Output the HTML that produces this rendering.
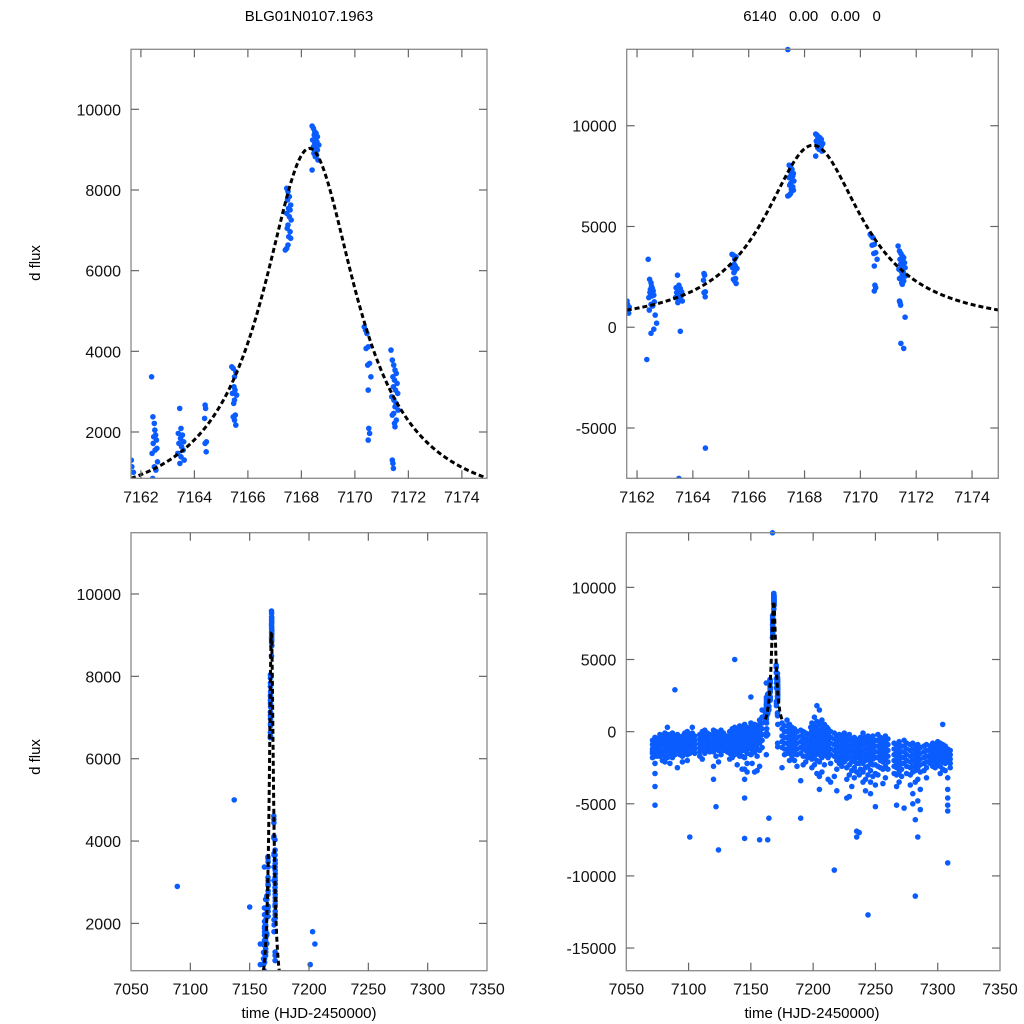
<!DOCTYPE html>
<html><head><meta charset="utf-8"><style>
html,body{margin:0;padding:0;background:#fff;}
svg{display:block;font-family:"Liberation Sans",Arial,sans-serif;}
</style></head><body>
<svg id="fig" width="1024" height="1024" viewBox="0 0 1024 1024" xmlns="http://www.w3.org/2000/svg">
<rect width="1024" height="1024" fill="#fff"/>
<text x="309" y="21" font-size="15" text-anchor="middle">BLG01N0107.1963</text>
<text x="812" y="21" font-size="15" text-anchor="middle" xml:space="preserve">6140   0.00   0.00   0</text>
<text transform="translate(40,263) rotate(-90)" font-size="15" text-anchor="middle">d flux</text>
<text transform="translate(40,757) rotate(-90)" font-size="15" text-anchor="middle">d flux</text>
<text x="309" y="1018" font-size="15" text-anchor="middle">time (HJD-2450000)</text>
<text x="812" y="1018" font-size="15" text-anchor="middle">time (HJD-2450000)</text>
</svg>
<script>
// ---- data ----
const peakTimes = [7161.64,7161.66,7161.70,7161.72,
7162.40,7162.45,7162.50,7162.52,7162.55,7162.48,7162.58,7162.46,7162.60,7162.53,7162.42,7162.62,7162.50,7162.56,7162.44,7162.65,7162.35,7162.50,7162.60,7162.70,
7163.45,7163.50,7163.40,7163.55,7163.48,7163.60,7163.42,7163.52,7163.58,7163.38,7163.50,7163.62,7163.46,7163.55,7163.50,
7164.40,7164.42,7164.38,7164.45,7164.40,7164.44,7164.45,
7165.40,7165.45,7165.55,7165.50,7165.48,7165.52,7165.42,7165.58,7165.50,7165.47,7165.53,7165.45,7165.50,7165.55,
7167.45,7167.50,7167.55,7167.48,7167.60,7167.52,7167.58,7167.45,7167.55,7167.62,7167.50,7167.47,7167.58,7167.53,7167.60,7167.50,7167.45,7167.40,7167.40,
7168.40,7168.45,7168.50,7168.55,7168.48,7168.60,7168.52,7168.42,7168.58,7168.50,7168.65,7168.45,7168.55,7168.60,7168.50,7168.47,7168.57,7168.52,7168.62,7168.40,
7170.35,7170.40,7170.45,7170.50,7170.42,7170.55,7170.48,7170.60,7170.50,7170.52,7170.55,7170.50,
7171.35,7171.40,7171.45,7171.50,7171.55,7171.42,7171.48,7171.58,7171.44,7171.52,7171.60,7171.38,7171.46,7171.54,7171.50,7171.62,7171.45,7171.40,7171.55,7171.48,7171.50,7171.40,7171.42,7171.44,7171.45,7171.55,7171.60];
const peakFlux = [1300,1140,700,1000,
3369,2377,2212,2047,1923,1882,1799,1717,1593,1551,1469,1262,1138,1055,849,600,-1600,-300,-100,200,
2584,2088,1964,1923,1840,1758,1717,1634,1551,1469,1386,1303,1221,-200,-7500,
2667,2584,2336,1758,1717,1510,-6000,
3617,3576,3493,3369,3121,3039,2956,2915,2791,2708,2419,2377,2295,2171,
8041,7959,7835,7752,7628,7545,7504,7421,7339,7256,7132,7049,6967,6843,6802,6636,6553,6512,13780,
9586,9528,9445,9404,9363,9321,9280,9239,9197,9156,9115,9073,9032,8991,8949,8908,8867,8825,8743,8495,
4609,4526,4443,4113,4071,3700,3659,3369,3039,2088,1964,1800,
4031,3783,3659,3535,3452,3369,3287,3204,3121,3039,2956,2873,2791,2708,2625,2543,2460,2419,2295,2212,2130,1303,1221,1097,-800,-1050,500];
const nightTimes = [7071,7073,7075,7077,7079,7081,7083,7085,7087,7089,7091,7093,7095,7097,7099,7101,7103,7105,7109,7111,7113,7115,7117,7120,7122,7124,7126,7128,7131,7133,7135,7137,7139,7141,7143,7145,7147,7150,7151,7153,7155,7157,7159,
7175,7177,7179,7181,7183,7185,7187,7190,7192,7194,7196,7198,7199,7201,7203,7205,7207,7209,7211,7212,7214,7217,7219,7221,7223,7225,7227,7229,7231,7233,7235,7237,7238,7240,7242,7244,7246,7248,7250,7252,7254,7256,7258,7260,7265,7267,7269,7271,7273,7275,7278,7280,7282,7284,7286,7289,7291,7294,7296,7298,7300,7302,7304,7306,7308,7310];
const nightFlux = [
[-600,-900,-1200,-1500,-1800,-1400],[-400,-800,-1100,-1300,-1700,-2200,-2900,-3800,-5100],[-500,-800,-1100,-1400,-1700],[-200,-500,-800,-1000,-1400,-1700],[-300,-600,-900,-1300,-1600,-2000],[-100,-400,-700,-1000,-1300,-1700,-2100],[300,-200,-500,-800,-1100,-1400,-1800],[-200,-500,-900,-1200,-1500,-2200],[-100,-400,-700,-1100,-1400,-1800],[-300,-600,-900,-1200,-1600,2900],[-200,-500,-800,-1000,-1300,-2500],[-400,-700,-1000,-1300,-1600],[-300,-700,-1000,-1300,-1700,-2100],[-100,-400,-700,-1100,-1400],[0,-300,-600,-900,-1200,-1600,-2000],[-200,-500,-800,-1100,-1500,-7300],[300,-100,-400,-800,-1100,-1400],[-300,-600,-900,-1200,-1500],
[-200,-500,-800,-1100,-1400,-1700],[0,-300,-600,-900,-1200,-1900],[100,-200,-500,-800,-1100,-1500],[-100,-400,-700,-1000,-1300],[-200,-500,-800,-1100,-1400],[100,-200,-500,-800,-1100,-1400,-2400,-3300],[0,-300,-600,-900,-1200,-1700,-5200],[-100,-400,-700,-1000,-1300,-2100,-8200],[100,-200,-500,-800,-1100,-1600],[-100,-400,-700,-1000,-1300],[-300,-500,-800,-1100,-1400],[0,-300,-600,-900,-1200,-1500,-1900],[200,-100,-400,-700,-1000,-1300,-1800],[300,0,-300,-600,-900,-1200,-1600,5000],[100,-200,-500,-800,-1100,-1400,-2300],[400,100,-200,-500,-800,-1100,-1400,-1700],[200,-100,-400,-700,-1000,-1300,-1700,-2600],[500,200,-100,-400,-700,-1000,-1300,-1800,-2600,-3300,-4600,-7400],[300,0,-300,-600,-900,-1200,-1500,-2200,-2800],[600,300,0,-300,-600,-900,-1200,-1600,2400],[400,100,-200,-500,-800,-1100,-1500,-2200],[500,200,-100,-400,-700,-1000,-1400,-2800],[300,0,-300,-600,-900,-1200,-1700,-2700],[800,500,200,-100,-400,-800,-1300,-2400,-7500],[1500,1000,600,200,-200,-600,-1100],
[600,200,-300,-700,-1100,-2500],[400,0,-400,-800,-1200,-1600],[800,400,0,-400,-800,-1200,-1500],[500,100,-300,-700,-1100,-1500,-2000],[300,-100,-500,-900,-1300,-1700],[200,-200,-600,-1000,-1400,-2000],[0,-400,-800,-1200,-1600,-2400],[100,-300,-700,-1100,-1500,-3400,-6000],[0,-400,-800,-1200,-1700,-2300],[-100,-500,-900,-1300,-1700,-2100],[-200,-600,-1000,-1400,-1800],[300,-100,-500,-900,-1300,-1700],[600,100,-300,-700,-1100,-1500,-1900,-2500],[1000,400,-100,-500,-900,-1300,-1700,-2300],[1800,700,200,-300,-700,-1100,-1500,-2000,-2900],[1500,500,0,-400,-800,-1200,-1600,-2100,-3100,-4000],[800,200,-200,-600,-1000,-1400,-1800,-2800],[500,0,-400,-800,-1200,-1600,-2300],[300,-100,-500,-900,-1300,-1700],[200,-200,-600,-1000,-1400,-1800,-3300],[0,-400,-800,-1200,-1600,-2200,-3500],[-100,-500,-900,-1300,-1700,-3100,-9600],[-300,-700,-1100,-1500,-2000,-2600,-4100],[-200,-600,-1000,-1400,-1800,-2200],[-300,-700,-1100,-1500,-1900,-2400],
[-100,-500,-900,-1300,-1700,-2100],[-300,-700,-1100,-1500,-1900,-2500,-3300,-4600],[-200,-600,-1000,-1400,-1800,-2300,-3000,-4500],[-500,-900,-1300,-1700,-2100,-2700,-3800],[-400,-800,-1200,-1600,-2000,-2500,-3200],[-600,-1000,-1400,-1800,-2200,-2800,-6900,-7300],[-500,-900,-1300,-1700,-2200,-3000,-7000],[-400,-800,-1200,-1600,-2000,-2600],[-100,-500,-900,-1300,-1700,-2200,-2800,-3500],[-400,-800,-1200,-1600,-2000,-2500,-3300,-4100],[-300,-700,-1100,-1500,-1900,-2400,-3000,-12700],[-500,-900,-1300,-1700,-2100,-2700,-3500,-4300],[-300,-700,-1100,-1500,-1900,-2300,-3100],[-600,-1000,-1400,-1800,-2300,-2900,-3700,-5200],[-200,-600,-1000,-1400,-1800,-2400,-3000],[-400,-800,-1200,-1600,-2000,-2500],[-500,-900,-1300,-1700,-2100,-2600,-3600],[-300,-700,-1100,-1500,-1900,-2400,-3200],[-500,-900,-1300,-1700,-2100,-2600],[-800,-1200,-1600,-2000,-2400,-2900],
[-900,-1300,-1700,-2100,-2500,-3000,-3800,-5100],[-700,-1100,-1500,-1900,-2300,-2800,-3500],[-1000,-1400,-1800,-2200,-2600,-3100],[-600,-1000,-1400,-1800,-2200,-5300],[-800,-1200,-1600,-2000,-2400,-2900],[-900,-1300,-1700,-2100,-2500,-3000,-3700],[-800,-1200,-1600,-2000,-2400,-2800,-4300,-5000],[-1100,-1500,-1900,-2300,-2700,-3500,-6100,-11400],[-900,-1300,-1700,-2100,-2500,-3300,-4800,-7300],[-1100,-1500,-1900,-2300,-2800,-4000,-5400],[-1000,-1400,-1800,-2200,-2700],[-900,-1300,-1700,-2100,-2500,-3200],[-1000,-1300,-1600,-1900,-2200],[-800,-1100,-1400,-1700,-2000,-2400],[-900,-1200,-1500,-1800,-2100,-2500],[-700,-1000,-1300,-1600,-1900,-2300],[-800,-1100,-1400,-1700,-2000,-2400,-2900],[500,-900,-1200,-1500,-1800,-2100,-2600],[-1000,-1300,-1600,-1900,-2200,-2700],[-1200,-1500,-1800,-2100,-3200,-4000,-4600,-5100,-5500,-9100],[-1300,-1600,-1900,-2200,-2500]];
// model: [t0, peak, width]
const modelParams = [7168.3, 9031, 2.15];
const modelRange = [7161.63, 7174.94];
const zoomXTicks = [7162,7164,7166,7168,7170,7172,7174];
const fullXTicks = [7050,7100,7150,7200,7250,7300,7350];
const leftYTicks = [2000,4000,6000,8000,10000];
const trYTicks = [-5000,0,5000,10000];
const brYTicks = [-15000,-10000,-5000,0,5000,10000];

// ---- layout ----
const NS = "http://www.w3.org/2000/svg";
const svg = document.getElementById('fig');
const panels = [
 {name:'zoom-panel-left', x0:131,x1:487,y0:49.3,y1:478.3, xr:[7161.63,7174.94], yr:[852,11488], xt:zoomXTicks, yt:leftYTicks},
 {name:'zoom-panel-right', x0:626.7,x1:998.3,y0:49.3,y1:478.3, xr:[7161.63,7174.94], yr:[-7497,13793], xt:zoomXTicks, yt:trYTicks},
 {name:'full-panel-left', x0:131,x1:487,y0:532.7,y1:970.7, xr:[7050,7350], yr:[852,11488], xt:fullXTicks, yt:leftYTicks},
 {name:'full-panel-right', x0:626.3,x1:1000,y0:532.7,y1:970.7, xr:[7050,7350], yr:[-16570,13790], xt:fullXTicks, yt:brYTicks}
];
function mk(tag, attrs, parent){const e=document.createElementNS(NS,tag);for(const k in attrs)e.setAttribute(k,attrs[k]);(parent||svg).appendChild(e);return e;}

const allT=[], allF=[];
for(let i=0;i<peakTimes.length;i++){allT.push(peakTimes[i]);allF.push(peakFlux[i]);}
for(let i=0;i<nightTimes.length;i++){for(const f of nightFlux[i]){allT.push(nightTimes[i]);allF.push(f);}}
function model(t){const d=(t-modelParams[0])/modelParams[2];return modelParams[1]/(1+d*d);}

panels.forEach((p,pi)=>{
  const sx=t=>p.x0+(t-p.xr[0])/(p.xr[1]-p.xr[0])*(p.x1-p.x0);
  const sy=f=>p.y1-(f-p.yr[0])/(p.yr[1]-p.yr[0])*(p.y1-p.y0);
  const g=mk('g',{});
  
  
  const cp=mk('clipPath',{id:'clip'+pi},g);
  mk('rect',{x:p.x0,y:p.y0-3,width:p.x1-p.x0,height:p.y1-p.y0+3},cp);
  const pts=mk('g',{'clip-path':'url(#clip'+pi+')',fill:'#0a5cff'},g);
  
  
  for(let i=0;i<allT.length;i++){
    if(allT[i]<p.xr[0]||allT[i]>p.xr[1])continue;
    const x=sx(allT[i]), y=sy(allF[i]);
    if(y<p.y0-4||y>p.y1+3)continue;
    const c=mk('circle',{cx:x.toFixed(1),cy:y.toFixed(1),r:2.8},pts);
    
    
  }
  let d='';
  for(let k=0;k<=300;k++){const t=modelRange[0]+(modelRange[1]-modelRange[0])*k/300;d+=(k?'L':'M')+sx(t).toFixed(2)+','+sy(model(t)).toFixed(2);}
  const ml=mk('path',{d:d,fill:'none',stroke:'#000','stroke-width':3,'stroke-dasharray':'5,3','clip-path':'url(#clip'+pi+')'},g);
  
  
  const box=mk('rect',{x:p.x0,y:p.y0,width:p.x1-p.x0,height:p.y1-p.y0,fill:'none',stroke:'#888','stroke-width':1.3},g);
  
  
  const TL=8;
  p.xt.forEach(v=>{
    const x=sx(v);
    if(x>p.x0+1&&x<p.x1-1){
      mk('line',{x1:x,y1:p.y1,x2:x,y2:p.y1-TL,stroke:'#666','stroke-width':1.2},g);
      mk('line',{x1:x,y1:p.y0,x2:x,y2:p.y0+TL,stroke:'#666','stroke-width':1.2},g);
    }
    const tx=mk('text',{x:x,y:p.y1+24,'font-size':16,'text-anchor':'middle',fill:'#111'},g);
    tx.textContent=v;
    
    
  });
  p.yt.forEach(v=>{
    const y=sy(v);
    mk('line',{x1:p.x0,y1:y,x2:p.x0+TL,y2:y,stroke:'#666','stroke-width':1.2},g);
    mk('line',{x1:p.x1,y1:y,x2:p.x1-TL,y2:y,stroke:'#666','stroke-width':1.2},g);
    const ty=mk('text',{x:p.x0-10,y:y+6,'font-size':16,'text-anchor':'end',fill:'#111'},g);
    ty.textContent=v;
    
    
  });
});
</script>
</body></html>
